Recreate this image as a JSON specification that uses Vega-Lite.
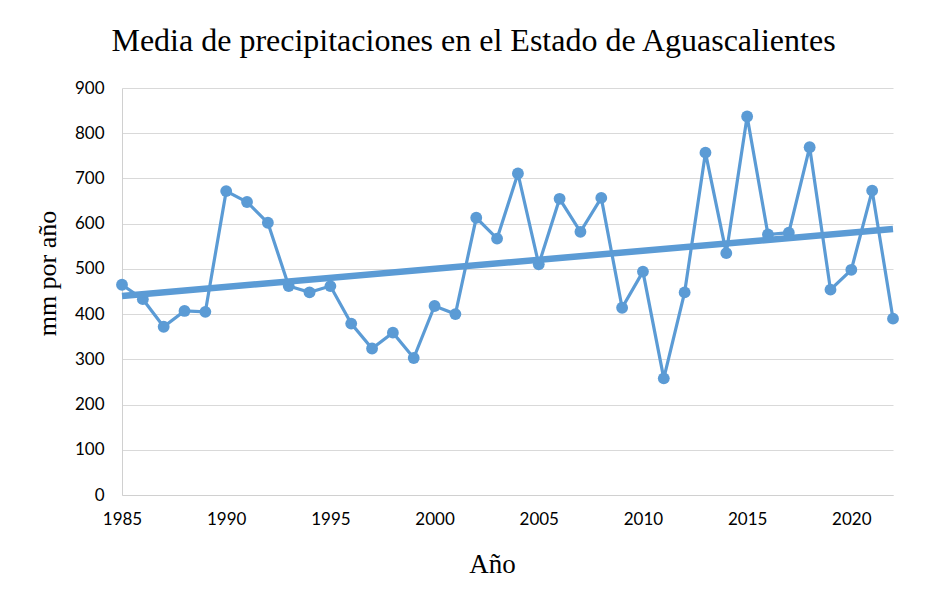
{
  "$schema": "https://vega.github.io/schema/vega-lite/v6.json",
  "width": 771,
  "height": 407,
  "autosize": "none",
  "padding": {"left": 122, "top": 88, "right": 37, "bottom": 102},
  "background": "white",
  "title": {
    "text": "Media de precipitaciones en el Estado de Aguascalientes",
    "font": "Liberation Serif",
    "fontSize": 32,
    "fontWeight": "normal",
    "color": "#000000",
    "anchor": "middle",
    "dx": -34,
    "dy": 24,
    "baseline": "alphabetic",
    "offset": 20
  },
  "config": {
    "view": {"stroke": null},
    "axis": {
      "labelFont": "Lato",
      "labelColor": "#000000",
      "titleFont": "Liberation Serif",
      "titleFontWeight": "normal",
      "titleColor": "#000000",
      "ticks": false,
      "tickSize": 0,
      "domainColor": "#d0d0d0",
      "gridColor": "#d9d9d9",
      "gridWidth": 1.2
    }
  },
  "data": {
    "values": [
      {"year": 1985, "mm": 465},
      {"year": 1986, "mm": 433},
      {"year": 1987, "mm": 372},
      {"year": 1988, "mm": 407},
      {"year": 1989, "mm": 405},
      {"year": 1990, "mm": 672},
      {"year": 1991, "mm": 648},
      {"year": 1992, "mm": 602},
      {"year": 1993, "mm": 462},
      {"year": 1994, "mm": 448},
      {"year": 1995, "mm": 462},
      {"year": 1996, "mm": 379},
      {"year": 1997, "mm": 324},
      {"year": 1998, "mm": 359},
      {"year": 1999, "mm": 303},
      {"year": 2000, "mm": 418},
      {"year": 2001, "mm": 400},
      {"year": 2002, "mm": 613},
      {"year": 2003, "mm": 567},
      {"year": 2004, "mm": 711},
      {"year": 2005, "mm": 510},
      {"year": 2006, "mm": 655},
      {"year": 2007, "mm": 582},
      {"year": 2008, "mm": 657},
      {"year": 2009, "mm": 414},
      {"year": 2010, "mm": 494},
      {"year": 2011, "mm": 258},
      {"year": 2012, "mm": 448},
      {"year": 2013, "mm": 757},
      {"year": 2014, "mm": 535},
      {"year": 2015, "mm": 837},
      {"year": 2016, "mm": 576},
      {"year": 2017, "mm": 580},
      {"year": 2018, "mm": 769},
      {"year": 2019, "mm": 454},
      {"year": 2020, "mm": 498},
      {"year": 2021, "mm": 673},
      {"year": 2022, "mm": 390}
    ]
  },
  "encoding": {
    "x": {
      "field": "year",
      "type": "quantitative",
      "scale": {"domain": [1985, 2022], "nice": false, "zero": false},
      "axis": {
        "title": "Año",
        "values": [1985, 1990, 1995, 2000, 2005, 2010, 2015, 2020],
        "format": "d",
        "grid": false,
        "labelFontSize": 17,
        "labelPadding": 16,
        "labelFlush": false,
        "titleFontSize": 27,
        "titleX": 370,
        "titleY": 77,
        "titleBaseline": "alphabetic",
        "titleAnchor": null
      }
    },
    "y": {
      "field": "mm",
      "type": "quantitative",
      "scale": {"domain": [0, 900], "nice": false},
      "axis": {
        "title": "mm por año",
        "values": [0, 100, 200, 300, 400, 500, 600, 700, 800, 900],
        "labelFontSize": 17,
        "labelPadding": 18,
        "titleFontSize": 26,
        "titleAngle": -90,
        "titleX": -67,
        "titleY": 185,
        "titleAlign": "center",
        "titleBaseline": "alphabetic"
      }
    }
  },
  "layer": [
    {
      "mark": {
        "type": "line",
        "color": "#5B9BD5",
        "strokeWidth": 3.2,
        "point": {"filled": true, "size": 140, "color": "#5B9BD5", "opacity": 1}
      }
    },
    {
      "transform": [{"regression": "mm", "on": "year", "extent": [1985, 2022]}],
      "mark": {"type": "line", "color": "#5B9BD5", "strokeWidth": 6.5}
    }
  ]
}
